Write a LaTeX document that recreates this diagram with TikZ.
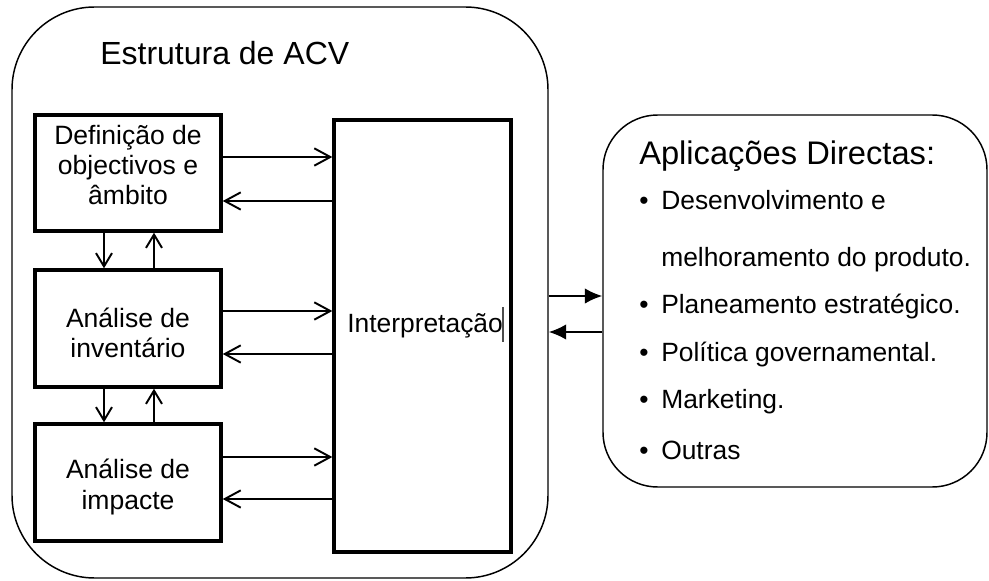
\documentclass[tikz,border=0pt]{standalone}
\usepackage{fontspec}
\setmainfont{Liberation Sans}
\usetikzlibrary{arrows.meta}
\begin{document}
\begin{tikzpicture}[x=0.75pt,y=-0.75pt,
  box/.style={draw, line width=2.6pt, minimum width=139.5pt, inner sep=0pt},
  txt/.style={font=\fontsize{19.9pt}{22.8pt}\selectfont, align=center, inner sep=0pt},
  itm/.style={font=\fontsize{19.8pt}{22pt}\selectfont, inner sep=0pt, anchor=base west},
  arr/.style={line width=1.45pt, -{Straight Barb[length=12pt,width=13pt]}},
  varr/.style={line width=1.45pt, -{Straight Barb[length=10pt,width=12pt]}},
  farr/.style={line width=1.2pt, -{Latex[length=13pt,width=11.5pt]}},
  group/.style={draw, line width=1.1pt}]
\useasboundingbox (0,0) rectangle (989,581);
% outer groups
\node[group, rounded corners=62pt, minimum width=402pt, minimum height=428.25pt] (acv) at (280,292.5) {};
\node[group, rounded corners=41pt, minimum width=288pt, minimum height=279pt] (apl) at (795,301) {};
% title
\node[font=\fontsize{24pt}{28pt}\selectfont, inner sep=0pt, anchor=base west] (title) at (100,65) {Estrutura de ACV};
% stage boxes
\node[box, minimum height=87pt] (b1) at (128,173) {};
\node[box, minimum height=87.75pt] (b2) at (128,328.5) {};
\node[box, minimum height=87.75pt] (b3) at (128,482.5) {};
\node[draw, line width=2.5pt, minimum width=132.75pt, minimum height=324pt, inner sep=0pt] (int) at (422.5,336) {};
% texts
\node[txt] (t1) at (128,165) {Definição de\\objectivos e\\âmbito};
\node[txt] (t2) at (128,333) {Análise de\\inventário};
\node[txt] (t3) at (128,487) {Análise de\\impacte};
\node[font=\fontsize{19.8pt}{22pt}\selectfont, inner sep=0pt, anchor=base west] (ti) at (347,332) {Interpretação};
\coordinate (cur1) at (503,307);
\coordinate (cur2) at (503,342);
\draw[line width=0.8pt, black!70] (cur1) -- (cur2);
% horizontal arrows
\draw[arr] (b1.east |- 0,157) -- (int.west |- 0,157);
\draw[arr] (int.west |- 0,201) -- (b1.east |- 0,201);
\draw[arr] (b2.east |- 0,311) -- (int.west |- 0,311);
\draw[arr] (int.west |- 0,354) -- (b2.east |- 0,354);
\draw[arr] (b3.east |- 0,457) -- (int.west |- 0,457);
\draw[arr] (int.west |- 0,499) -- (b3.east |- 0,499);
% vertical arrows
\draw[varr] (b1.south -| 104,0) -- (b2.north -| 104,0);
\draw[varr] (b2.north -| 154,0) -- (b1.south -| 154,0);
\draw[varr] (b2.south -| 104,0) -- (b3.north -| 104,0);
\draw[varr] (b3.north -| 154,0) -- (b2.south -| 154,0);
% to applications
\draw[farr] (acv.east |- 0,296) -- (apl.west |- 0,296);
\draw[farr] (apl.west |- 0,332) -- (acv.east |- 0,332);
% applications text
\node[font=\fontsize{24.5pt}{28pt}\selectfont, inner sep=0pt, anchor=base west] (aph) at (639,165) {Aplicações Directas:};
\node[itm] (p1) at (639,209.5) {•};
\node[itm] (i1) at (661,209.5) {Desenvolvimento e};
\node[itm] (i1b) at (661,266.5) {melhoramento do produto.};
\node[itm] (p2) at (639,313.5) {•};
\node[itm] (i2) at (661,313.5) {Planeamento estratégico.};
\node[itm] (p3) at (639,361.5) {•};
\node[itm] (i3) at (661,361.5) {Política governamental.};
\node[itm] (p4) at (639,408.5) {•};
\node[itm] (i4) at (661,408.5) {Marketing.};
\node[itm] (p5) at (639,459.5) {•};
\node[itm] (i5) at (661,459.5) {Outras};
\end{tikzpicture}
\end{document}
